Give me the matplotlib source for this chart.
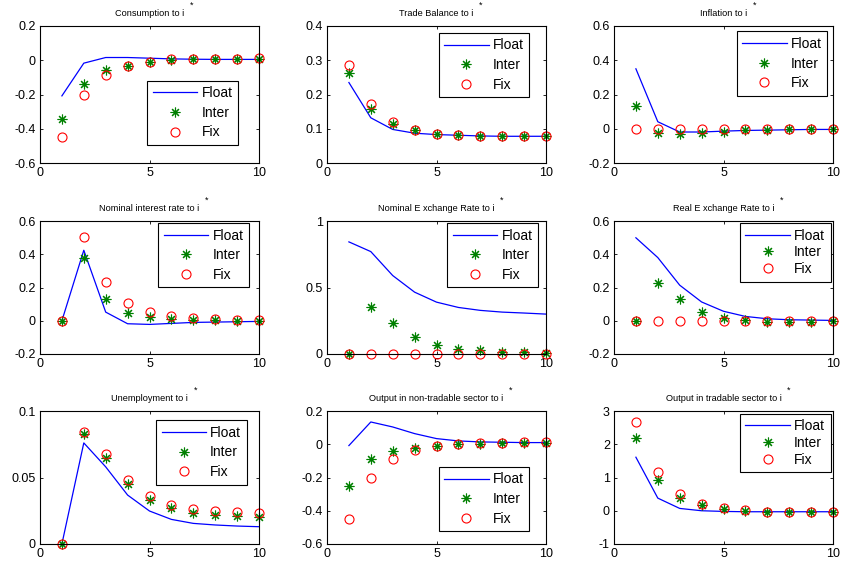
import matplotlib
matplotlib.use("Agg")
import matplotlib.pyplot as plt
from matplotlib.ticker import FuncFormatter

plt.rcParams['font.family'] = ['Liberation Sans', 'DejaVu Sans']
plt.rcParams['axes.unicode_minus'] = False

periods = [1, 2, 3, 4, 5, 6, 7, 8, 9, 10]
series_names = ['Float', 'Inter', 'Fix']

titles = ['Consumption to i', 'Trade Balance to i', 'Inflation to i',
          'Nominal interest rate to i', 'Nominal E xchange Rate to i', 'Real E xchange Rate to i',
          'Unemployment to i', 'Output in non-tradable sector to i', 'Output in tradable sector to i']

# consumption
cons_float = [-0.208, -0.017, 0.016, 0.016, 0.012, 0.008, 0.006, 0.005, 0.005, 0.005]
cons_inter = [-0.342, -0.14, -0.058, -0.031, -0.01, 0.002, 0.006, 0.008, 0.008, 0.01]
cons_fix = [-0.45, -0.2, -0.087, -0.035, -0.012, 0.006, 0.008, 0.01, 0.01, 0.012]

# trade balance
tb_float = [0.235, 0.132, 0.098, 0.087, 0.083, 0.081, 0.079, 0.078, 0.078, 0.078]
tb_inter = [0.262, 0.158, 0.115, 0.095, 0.085, 0.081, 0.08, 0.079, 0.079, 0.078]
tb_fix = [0.287, 0.171, 0.12, 0.097, 0.085, 0.082, 0.08, 0.079, 0.079, 0.078]

# inflation
inf_float = [0.35, 0.041, -0.019, -0.019, -0.014, -0.01, -0.008, -0.006, -0.004, -0.004]
inf_inter = [0.13, -0.025, -0.031, -0.025, -0.017, -0.01, -0.006, -0.004, -0.002, -0.002]
inf_fix = [0, 0, 0, 0, 0, 0, 0, 0, 0, 0]

# nominal interest rate
nir_float = [0, 0.424, 0.052, -0.018, -0.022, -0.016, -0.01, -0.008, -0.006, -0.004]
nir_inter = [0, 0.38, 0.128, 0.048, 0.02, 0.008, 0.004, 0.002, 0, 0]
nir_fix = [0, 0.502, 0.232, 0.108, 0.052, 0.026, 0.014, 0.008, 0.004, 0.002]

# nominal exchange rate
ner_float = [0.843, 0.77, 0.59, 0.465, 0.39, 0.35, 0.328, 0.315, 0.308, 0.3]
ner_inter = [0, 0.353, 0.235, 0.13, 0.068, 0.04, 0.028, 0.018, 0.012, 0.008]
ner_fix = [0, 0, 0, 0, 0, 0, 0, 0, 0, 0]

# real exchange rate
rer_float = [0.499, 0.38, 0.214, 0.113, 0.057, 0.026, 0.012, 0.006, 0.004, 0.002]
rer_inter = [0, 0.226, 0.129, 0.053, 0.018, 0.004, -0.006, -0.008, -0.006, -0.004]
rer_fix = [0, 0, 0, 0, 0, 0, 0, 0, 0, 0]

# unemployment
un_float = [0, 0.076, 0.058, 0.0368, 0.0248, 0.0185, 0.0155, 0.0143, 0.0135, 0.013]
un_inter = [0, 0.0825, 0.065, 0.045, 0.033, 0.0268, 0.0235, 0.0218, 0.021, 0.0205]
un_fix = [0, 0.0843, 0.0675, 0.0478, 0.0358, 0.0295, 0.0265, 0.0248, 0.024, 0.0235]

# output non-tradable
ynt_float = [-0.008, 0.134, 0.104, 0.064, 0.034, 0.02, 0.014, 0.012, 0.01, 0.01]
ynt_inter = [-0.252, -0.09, -0.04, -0.02, -0.008, 0, 0.004, 0.006, 0.008, 0.008]
ynt_fix = [-0.452, -0.202, -0.088, -0.032, -0.01, 0.004, 0.008, 0.01, 0.012, 0.012]

# output tradable
yt_float = [1.61, 0.38, 0.07, 0.0, -0.02, -0.03, -0.03, -0.03, -0.03, -0.03]
yt_inter = [2.19, 0.91, 0.39, 0.18, 0.06, 0.0, -0.03, -0.04, -0.05, -0.05]
yt_fix = [2.66, 1.16, 0.5, 0.2, 0.07, 0.01, -0.03, -0.04, -0.05, -0.05]

data = [(cons_float, cons_inter, cons_fix), (tb_float, tb_inter, tb_fix),
        (inf_float, inf_inter, inf_fix), (nir_float, nir_inter, nir_fix),
        (ner_float, ner_inter, ner_fix), (rer_float, rer_inter, rer_fix),
        (un_float, un_inter, un_fix), (ynt_float, ynt_inter, ynt_fix),
        (yt_float, yt_inter, yt_fix)]

yticks = [[-0.6, -0.4, -0.2, 0, 0.2], [0, 0.1, 0.2, 0.3, 0.4], [-0.2, 0, 0.2, 0.4, 0.6],
          [-0.2, 0, 0.2, 0.4, 0.6], [0, 0.5, 1], [-0.2, 0, 0.2, 0.4, 0.6],
          [0, 0.05, 0.1], [-0.6, -0.4, -0.2, 0, 0.2], [-1, 0, 1, 2, 3]]

# legend upper-left corner (axes fraction) and row spacing
leg_pos = [(0.49, 0.60), (0.51, 0.95), (0.56, 0.96), (0.54, 0.985), (0.55, 0.985),
           (0.575, 0.985), (0.53, 0.93), (0.51, 0.58), (0.575, 0.98)]
leg_space = [0.4, 0.4, 0.4, 0.4, 0.4, 0.2, 0.4, 0.4, 0.2]

W, H = 842, 565
col_x = [40, 327, 614]
row_px = [(26, 163), (221, 354), (411, 544)]

fig = plt.figure(figsize=(W / 100, H / 100), dpi=100)

for k in range(9):
    r, c = divmod(k, 3)
    top, bot = row_px[r]
    ax = fig.add_axes([col_x[c] / W, (H - bot) / H, 219 / W, (bot - top) / H])
    fl, it, fx = data[k]
    ax.plot(periods, fl, color='#0000ff', lw=0.9, label='Float')
    ax.plot(periods, it, ls='none', marker=(8, 2, 0), ms=7, color='#008000',
            mew=0.8, label='Inter', clip_on=False)
    ax.plot(periods, fx, ls='none', marker='o', ms=6.5, mfc='none', mec='#ff0000',
            mew=0.8, label='Fix', clip_on=False)
    ax.set_xlim(0, 10)
    ax.set_xticks([0, 5, 10])
    ax.set_ylim(yticks[k][0], yticks[k][-1])
    ax.set_yticks(yticks[k])
    ax.yaxis.set_major_formatter(FuncFormatter(lambda v, p: '%g' % round(v, 4)))
    ax.tick_params(direction='in', top=True, right=True, length=2.5, width=0.6,
                   labelsize=9, pad=3)
    for sp in ax.spines.values():
        sp.set_linewidth(0.8)
    ttl = ax.set_title(titles[k], fontsize=6.6, pad=7)
    ax.annotate('*', xy=(1, 1), xycoords=ttl, xytext=(4, 0), textcoords='offset points',
                fontsize=6.6, ha='left', va='bottom')
    ax.legend(loc='upper left', bbox_to_anchor=leg_pos[k], borderaxespad=0,
              fontsize=10, frameon=True, fancybox=False, edgecolor='black',
              framealpha=1, handlelength=3.2, handletextpad=0.3,
              labelspacing=leg_space[k], borderpad=0.4).get_frame().set_linewidth(0.8)

fig.savefig('out.png', dpi=100)
